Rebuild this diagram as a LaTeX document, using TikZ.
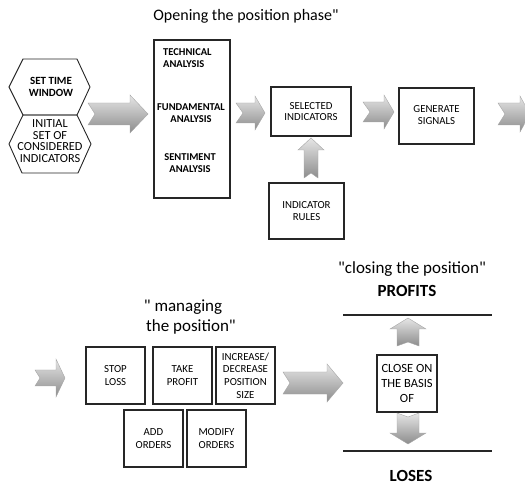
\documentclass[tikz,border=0pt]{standalone}
\usepackage{fontspec}
\setmainfont{Carlito}[Ligatures=TeXOff]
\tikzset{
  box/.style={draw=black!85, line width=1.2pt, inner sep=0pt, align=center},
  btxt/.style={font={\fontsize{10.5}{12.7}\selectfont\bfseries}, inner sep=0pt, align=center},
  ntxt/.style={font={\fontsize{10.8}{12.7}\selectfont}},
  title/.style={font={\fontsize{17}{20}\selectfont}, inner sep=0pt},
  btitle/.style={font={\fontsize{17}{20}\selectfont\bfseries}, inner sep=0pt},
  hexshape/.style={draw=black!85, line width=0.9pt},
  arrowfill/.style={draw=black!35, line width=0.4pt, top color=black!10, bottom color=black!45},
  sepline/.style={draw=black!85, line width=1.1pt},
  pics/barrow/.style args={#1/#2/#3/#4/#5}{code={
    \path[arrowfill] (0,#2) -- ({#1-#4},#2) -- ({#1-#4},#3) -- (#1,0) -- ({#1-#4},-#3)
      -- ({#1-#4},-#2) -- (0,-#2) -- (#5,0) -- cycle;
  }}
}
\begin{document}
\begin{tikzpicture}[x=1pt,y=-1pt]
\useasboundingbox (0,0) rectangle (525,486);
\clip (0,0) rectangle (525,486);

% titles
\node[title, anchor=base, font={\fontsize{16}{20}\selectfont}] (topen) at (246,21) {Opening the position phase"};
\node[title, anchor=base] (tman1) at (183,312) {" managing};
\node[title, anchor=base] (tman2) at (191,332) {the position"};
\node[title, anchor=base] (tclose) at (412,274) {"closing the position"};
\node[btitle, anchor=base] (tprof) at (407,297) {PROFITS};
\node[btitle, anchor=base] (tlose) at (411,481) {LOSES};

% hexagons
\draw[hexshape] (9,87) -- (23,59) -- (77,59) -- (90,87) -- (77,115) -- (23,115) -- cycle;
\draw[hexshape] (23,115) -- (77,115) -- (91,144) -- (78,173) -- (22,173) -- (9,144) -- cycle;
\node[btxt, font={\fontsize{11}{12.3}\selectfont\bfseries}] (hexa) at (51,87) {SET TIME\\WINDOW};
\node[inner sep=0pt, align=center, font={\fontsize{12.3}{11.7}\selectfont}] (hexb) at (50,141) {INITIAL\\SET OF\\CONSIDERED\\INDICATORS};

% analysis box
\node[box, minimum width=76pt, minimum height=158pt] (analysis) at (192,119) {};
\node[btxt, align=left, anchor=north west] (tech) at (163,48) {TECHNICAL\\ANALYSIS};
\node[btxt] (fund) at (191,113) {FUNDAMENTAL\\ANALYSIS};
\node[btxt] (sent) at (190,163) {SENTIMENT\\ANALYSIS};

% top row boxes
\node[box, ntxt, minimum width=80pt, minimum height=49pt] (sel) at (311,111.5) {\raisebox{-4pt}{\shortstack{SELECTED\\[1.5pt]INDICATORS}}};
\node[box, ntxt, minimum width=75pt, minimum height=56pt] (rules) at (306.5,211) {INDICATOR\\RULES};
\node[box, ntxt, minimum width=75pt, minimum height=56pt] (gen) at (436.5,116) {\raisebox{2pt}{\shortstack{GENERATE\\[1.5pt]SIGNALS}}};

% bottom boxes
\node[box, ntxt, minimum width=59pt, minimum height=57pt] (stop) at (115.5,375.5) {STOP\\LOSS};
\node[box, ntxt, minimum width=59pt, minimum height=57pt] (take) at (182.5,375.5) {TAKE\\PROFIT};
\node[box, ntxt, minimum width=59pt, minimum height=57pt] (incr) at (245.5,375.5) {INCREASE/\\DECREASE\\POSITION\\SIZE};
\node[box, ntxt, minimum width=59pt, minimum height=57pt] (add) at (153.5,438.5) {ADD\\ORDERS};
\node[box, ntxt, minimum width=59pt, minimum height=57pt] (mod) at (216.5,438.5) {MODIFY\\ORDERS};
\node[box, minimum width=60pt, minimum height=57pt, font={\fontsize{12.5}{15}\selectfont}] (close) at (407,383.5) {CLOSE ON\\THE BASIS\\OF};

% separator lines
\coordinate (lt1) at (343,315); \coordinate (lt2) at (492,315);
\coordinate (lb1) at (343,451); \coordinate (lb2) at (492,451);
\draw[sepline] (lt1) -- (lt2);
\draw[sepline] (lb1) -- (lb2);

% block arrows
\pic at (88,114) {barrow=60/11/19/18/7};
\pic at (236,113) {barrow=29/10/17/10/7};
\pic at (363,112) {barrow=31/10/17/10/7};
\pic at (498,114) {barrow=32/11/18/10/7};
\pic[rotate=90] at (311,178) {barrow=40/7/13/12/5};
\pic at (35,378) {barrow=30/8/19/9/5};
\pic at (283,383) {barrow=60/11/19/16/7};
\pic[rotate=90] at (408,346) {barrow=28/11/18/11/4};
\pic[rotate=-90] at (408,413) {barrow=31/11/18/11/4};
\end{tikzpicture}
\end{document}
